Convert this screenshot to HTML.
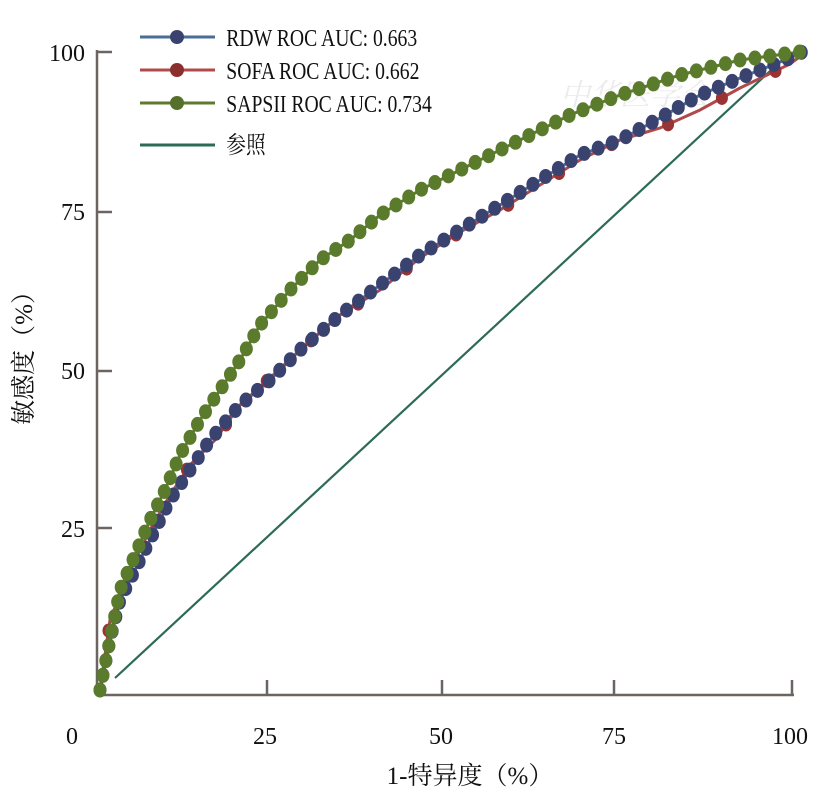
<!DOCTYPE html>
<html><head><meta charset="utf-8"><style>
body{margin:0;background:#fff;}
svg text{font-family:"Liberation Serif","Noto Serif CJK SC",serif;fill:#111;}
</style></head><body>
<svg id="s" width="827" height="805" viewBox="0 0 827 805" xmlns="http://www.w3.org/2000/svg">
<g stroke="#6b6461" stroke-width="2.5" fill="none">
<line x1="97" y1="50" x2="97" y2="696"/>
<line x1="97" y1="695" x2="794" y2="695"/>
<line x1="97" y1="52" x2="112" y2="52"/>
<line x1="97" y1="212" x2="112" y2="212"/>
<line x1="97" y1="371" x2="112" y2="371"/>
<line x1="97" y1="528" x2="112" y2="528"/>
<line x1="267" y1="680" x2="267" y2="695"/>
<line x1="442" y1="680" x2="442" y2="695"/>
<line x1="614" y1="680" x2="614" y2="695"/>
<line x1="792" y1="680" x2="792" y2="695"/>
</g>
<g font-size="24" text-anchor="end">
<text x="85" y="61">100</text><text x="85" y="220">75</text><text x="85" y="379">50</text><text x="85" y="537">25</text>
</g>
<g font-size="24" text-anchor="middle">
<text x="72" y="744">0</text><text x="265" y="744">25</text><text x="441" y="744">50</text><text x="614" y="744">75</text><text x="790" y="744">100</text>
</g>
<text x="470" y="784" font-size="25" text-anchor="middle">1-特异度（%）</text>
<text transform="translate(32,352) rotate(-90)" font-size="25" text-anchor="middle">敏感度（%）</text>
<text x="560" y="105" font-size="30" style="fill:#ececec" font-style="italic">中华医学会</text>
<line x1="115" y1="678" x2="782" y2="60" stroke="#2c6b55" stroke-width="2.2"/>
<path id="pb" d="M100,690 L110,640 L120,600 L135,570 L150,540 L170,500 L190,470 L210,440 L240,405 L270,380 L300,350 L340,315 L380,285 L420,255 L460,230 L500,205 L540,180 L580,155 L620,140 L660,118 L700,95 L740,78 L790,58 L802,52" fill="none" stroke="#4a6c9a" stroke-width="3"/>
<path id="pr" d="M100,690 L110,620 L122,590 L135,560 L150,530 L170,495 L190,465 L215,440 L240,405 L270,378 L300,350 L340,315 L380,290 L420,258 L460,232 L500,210 L540,185 L580,160 L620,140 L660,128 L700,110 L740,88 L790,64 L802,55" fill="none" stroke="#b04a4a" stroke-width="3"/>
<path id="pg" d="M100,690 L110,640 L120,590 L135,555 L150,520 L165,490 L180,455 L200,420 L220,390 L240,360 L260,325 L290,290 L320,260 L350,240 L380,215 L420,190 L470,165 L520,140 L570,115 L620,95 L680,75 L740,60 L800,52" fill="none" stroke="#5f7a2c" stroke-width="3"/>
<g id="m"></g>
<g stroke-width="3">
<line x1="140" y1="37" x2="215" y2="37" stroke="#4a6c9a"/><circle cx="177" cy="37" r="7" fill="#3a4370"/>
<line x1="140" y1="70" x2="215" y2="70" stroke="#b04a4a"/><circle cx="177" cy="70" r="7" fill="#8a2e2e"/>
<line x1="140" y1="103" x2="215" y2="103" stroke="#5f7a2c"/><circle cx="177" cy="103" r="7" fill="#55702a"/>
<line x1="140" y1="145" x2="215" y2="145" stroke="#2c6b55"/>
</g>
<g font-size="24" transform="scale(0.82,1)">
<text x="276" y="46">RDW ROC AUC: 0.663</text>
<text x="276" y="79">SOFA ROC AUC: 0.662</text>
<text x="276" y="112">SAPSII ROC AUC: 0.734</text>
<text x="276" y="153">参照</text>
</g>
</svg>
<script>
var m=document.getElementById('m');
function dots(id,fill,step,r){var p=document.getElementById(id),L=p.getTotalLength();
for(var l=0;l<=L;l+=step){var q=p.getPointAtLength(l);var c=document.createElementNS('http://www.w3.org/2000/svg','ellipse');
c.setAttribute('cx',q.x);c.setAttribute('cy',q.y);c.setAttribute('rx',r);c.setAttribute('ry',r+1);c.setAttribute('fill',fill);m.appendChild(c);}}
dots('pr','#9a3434',60,6);dots('pb','#3a4370',15,6.5);dots('pg','#5a7a2c',15,6.5);
</script>
</body></html>
